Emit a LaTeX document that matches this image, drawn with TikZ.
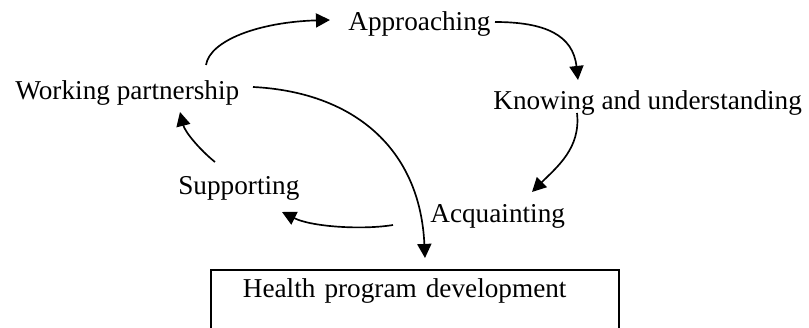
\documentclass[tikz,border=0pt]{standalone}
\usepackage{fontspec}
\setmainfont{Liberation Serif}
\usetikzlibrary{arrows.meta, calc}

\begin{document}
\begin{tikzpicture}[x=0.02cm, y=0.02cm]
  \tikzset{>={Triangle[length=8pt,width=8pt]}}
  \tikzset{stage/.style={inner sep=0, anchor=base west, font=\fontsize{15.5}{18}\selectfont}}
  \tikzset{flow/.style={->, line width=0.95pt}}
  \useasboundingbox (0,0) rectangle (809,328);
  \clip (0,0) rectangle (809,328);

  \node[stage] (appr) at (348,297) {Approaching};
  \node[stage] (wp)   at (15,228)  {Working partnership};
  \node[stage] (know) at (493,218) {Knowing and understanding};
  \node[stage] (sup)  at (178,133) {Supporting};
  \node[stage] (acq)  at (430,105) {Acquainting};
  \node[draw, line width=1pt, anchor=north west, inner xsep=0.64cm, inner ysep=0,
        text width=6.88cm, text height=0.56cm, text depth=3cm, align=left,
        font=\fontsize{15.5}{18}\selectfont] (health) at (210,59) {Health program development};

  % the cycle
  \draw[flow] ($(wp.base west)+(191,35)$) .. controls +(4,25) and +(-70,-2) .. ($(appr.base west)+(-18,11)$);
  \draw[flow] ($(appr.base west)+(147,9)$) .. controls +(50,0) and +(-5,45) .. ($(know.base west)+(85,30)$);
  \draw[flow] ($(know.base west)+(84,-3)$) .. controls +(4,-35) and +(25,25) .. ($(acq.base west)+(102,31)$);
  \draw[flow] ($(acq.base west)+(-37,-2)$) .. controls +(-30,-5) and +(30,-15) .. ($(sup.base west)+(104,-17)$);
  \draw[flow] ($(sup.base west)+(37,33)$) .. controls +(-15,12) and +(5,-20) .. ($(wp.base west)+(165,-12)$);
  \draw[flow] ($(wp.base west)+(238,13)$) .. controls +(100,-5) and +(-5,110) .. ($(health.north west)+(215,11)$);
\end{tikzpicture}
\end{document}
